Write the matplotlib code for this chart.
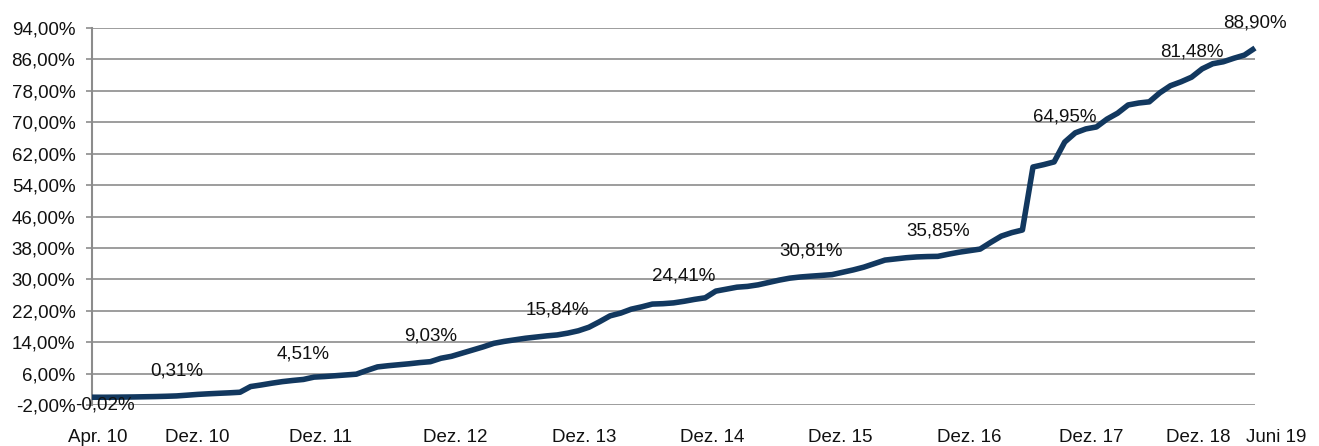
import matplotlib.pyplot as plt
from matplotlib.ticker import FuncFormatter
import matplotlib.transforms as mtransforms

plt.rcParams['font.family'] = ['Liberation Sans', 'DejaVu Sans']

# monthly values, Apr. 2010 .. Juni 2019 (in %)
values = [
    -0.02, -0.03, -0.01, 0.02, 0.05, 0.10, 0.15, 0.22, 0.31,          # Apr10 - Dez10
    0.50, 0.70, 0.85, 0.98, 1.10, 1.25, 2.70, 3.10, 3.55, 3.95, 4.25, 4.51,  # 2011
    5.10, 5.25, 5.45, 5.65, 5.85, 6.80, 7.70, 8.00, 8.25, 8.50, 8.80, 9.03,  # 2012
    9.90, 10.40, 11.20, 12.00, 12.80, 13.70, 14.20, 14.60, 15.00, 15.30, 15.60, 15.84,  # 2013
    16.30, 16.90, 17.80, 19.20, 20.70, 21.40, 22.40, 23.00, 23.70, 23.80, 24.00, 24.41,  # 2014
    24.90, 25.30, 27.00, 27.50, 28.00, 28.20, 28.60, 29.20, 29.80, 30.30, 30.60, 30.81,  # 2015
    31.00, 31.20, 31.80, 32.40, 33.10, 34.00, 34.90, 35.20, 35.50, 35.70, 35.80, 35.85,  # 2016
    36.40, 36.90, 37.30, 37.70, 39.40, 41.00, 41.90, 42.56, 58.60, 59.20, 59.90, 64.95,  # 2017
    67.30, 68.30, 68.80, 70.80, 72.30, 74.40, 74.90, 75.20, 77.50, 79.30, 80.30, 81.48,  # 2018
    83.60, 84.90, 85.40, 86.30, 87.10, 88.90,                                            # 2019
]
months = list(range(len(values)))

tick_idx = [0, 8, 20, 32, 44, 56, 68, 80, 92, 104, 110]
tick_labels = ['Apr. 10', 'Dez. 10', 'Dez. 11', 'Dez. 12', 'Dez. 13', 'Dez. 14',
               'Dez. 15', 'Dez. 16', 'Dez. 17', 'Dez. 18', 'Juni 19']
label_idx = tick_idx
y_ticks = [-2, 6, 14, 22, 30, 38, 46, 54, 62, 70, 78, 86, 94]

# shift of each x label (pixels) as in the original
label_shift_px = [6, 21, 17, 25, 27, 28, 29, 31, 27, 7, 21]

fig = plt.figure(figsize=(13.19, 4.46), dpi=100)
ax = fig.add_axes([92 / 1319, 41 / 446, (1255 - 92) / 1319, (405 - 28) / 446])

grid_c = '#8c8c8c'
line_c = '#12385f'
fs = 13.5

for yv in y_ticks:
    ax.axhline(yv, color=grid_c, lw=1.2, zorder=1)

ax.plot(months, values, color=line_c, lw=4, solid_joinstyle='round',
        solid_capstyle='butt', zorder=3, clip_on=False)

ax.set_xlim(0, 110)
ax.set_ylim(-2, 94)
ax.set_yticks(y_ticks)
ax.yaxis.set_major_formatter(FuncFormatter(lambda v, p: f'{v:.2f}%'.replace('.', ',')))
ax.set_xticks(tick_idx)
ax.set_xticklabels(tick_labels)

for s in ['top', 'right', 'bottom']:
    ax.spines[s].set_visible(False)
ax.spines['left'].set_color(grid_c)
ax.spines['left'].set_linewidth(1.5)

ax.tick_params(axis='y', length=4, width=1.2, color=grid_c, pad=8, labelsize=fs,
               labelcolor='#111111')
ax.tick_params(axis='x', length=0, pad=17, labelsize=fs, labelcolor='#111111')

for lab, dx in zip(ax.get_xticklabels(), label_shift_px):
    off = mtransforms.ScaledTranslation(dx / 100, 0, fig.dpi_scale_trans)
    lab.set_transform(lab.get_transform() + off)

for k, i in enumerate(label_idx):
    txt = f'{values[i]:.2f}%'.replace('.', ',')
    if k == 0:
        xy_off = (9.5, -8.5)
    else:
        xy_off = (0, 15)
    ax.annotate(txt, (months[i], values[i]), xytext=xy_off, textcoords='offset points',
                ha='center', va='baseline', fontsize=fs, color='#111111',
                annotation_clip=False, zorder=4)

fig.savefig('out.png', dpi=100)
